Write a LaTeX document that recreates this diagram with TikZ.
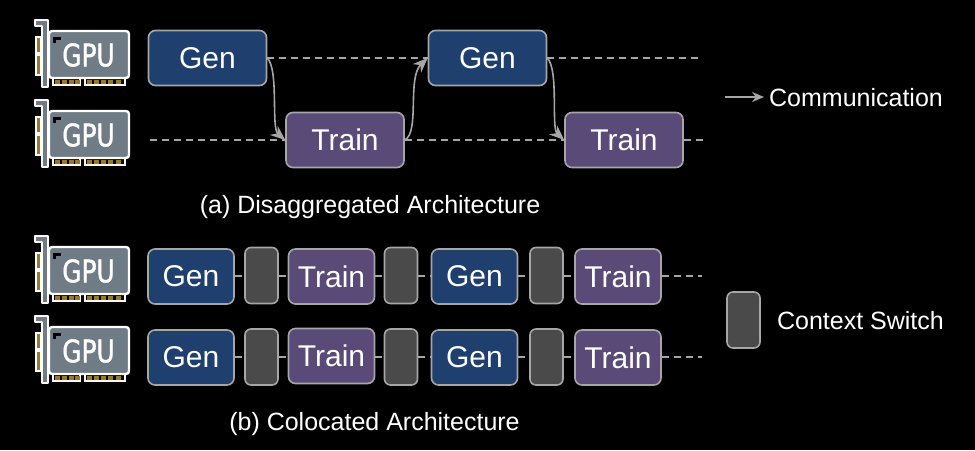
\documentclass[tikz,border=0pt]{standalone}
\usepackage{fontspec}
\setmainfont{Liberation Sans}
\newfontfamily\gpufont[FakeBold=1.6]{DejaVu Sans}
\usetikzlibrary{arrows.meta}
\definecolor{genfill}{HTML}{1F3F6E}
\definecolor{trainfill}{HTML}{5A4A78}
\definecolor{ctxfill}{HTML}{4A4A4A}
\definecolor{edgegray}{HTML}{A6A6A6}
\definecolor{cardgray}{HTML}{6F7B85}
\definecolor{goldpin}{HTML}{9A7A20}
\tikzset{
  box/.style={draw=edgegray,line width=1.6pt,rounded corners=7pt,inner sep=0pt,text=white,
    font=\fontsize{30}{34}\selectfont},
  genbox/.style={box,fill=genfill},
  trainbox/.style={box,fill=trainfill},
  ctxbox/.style={draw=edgegray,line width=1.6pt,rounded corners=6pt,inner sep=0pt,fill=ctxfill,
    minimum width=33pt,minimum height=56pt},
  big/.style={minimum width=118pt,minimum height=55pt},
  small/.style={minimum width=86pt,minimum height=55pt},
  dashline/.style={draw=edgegray,line width=1.5pt,dash pattern=on 7pt off 5pt},
  curved/.style={draw=edgegray,line width=1.6pt,-{Stealth[length=15pt,width=12pt]}},
  caption/.style={text=white,inner sep=0pt,font=\fontsize{25}{30}\selectfont},
  gpuicon/.pic={
    % bracket
    \draw[white,line width=2.2pt,fill=cardgray,line join=round]
      (35,20) -- (48,20) -- (48,87) -- (42,87) -- (42,26) -- (35,26) -- cycle;
    % side pins
    \draw[white,line width=1.6pt,fill=goldpin] (36,37) rectangle (41,53);
    \draw[white,line width=1.6pt,fill=goldpin] (36,55) rectangle (41,75);
    % bottom pins
    \draw[white,line width=1.6pt] (53,78) -- (53,85) -- (80,85) -- (80,78);
    \draw[white,line width=1.6pt] (85,78) -- (85,85) -- (125,85) -- (125,78);
    \foreach \a in {55,62,69,75,87,94,101,108,116}
      \fill[goldpin] (\a,80) rectangle +(5,3.5);
    % card
    \draw[white,line width=2.4pt,fill=cardgray,rounded corners=3pt] (49,31) rectangle (129,78);
    \fill[black] (53,37) rectangle (61,39.5);
    \fill[black] (53,37) rectangle (55.5,43);
    \node[text=white,inner sep=0pt,xscale=.8,transform shape,
      font=\gpufont\fontsize{31}{32}\selectfont] (-t) at (88.5,55) {GPU};
  }
}
\begin{document}
\begin{tikzpicture}[x=1pt,y=-1pt]
\useasboundingbox (0,0) rectangle (975,450);
\fill[black] (0,0) rectangle (975,450);

\pic (g1) at (0,0) {gpuicon};
\pic (g2) at (0,80) {gpuicon};
\pic (g3) at (0,216) {gpuicon};
\pic (g4) at (0,296) {gpuicon};

% (a)
\coordinate (s2) at (150,140);
\coordinate (e1) at (702,58);
\coordinate (e2) at (705,140);
\node[genbox,big] (a1) at (207.5,58) {Gen};
\node[trainbox,big] (a2) at (345,140) {Train};
\node[genbox,big] (a3) at (487.5,58) {Gen};
\node[trainbox,big] (a4) at (624,140) {Train};
\draw[dashline] (a1.east) -- (a3.west);
\draw[dashline] (a3.east) -- (e1);
\draw[dashline] (s2) -- (a2.west);
\draw[dashline] (a2.east) -- (a4.west);
\draw[dashline] (a4.east) -- (e2);
\draw[curved] (a1.east) .. controls (279,70) and (271,128) .. (a2.west);
\draw[curved] (a2.east) .. controls (420,132) and (407,78) .. (a3.west);
\draw[curved] (a3.east) .. controls (559,70) and (551,128) .. (a4.west);

\node[caption] (capa) at (370,207) {(a) Disaggregated Architecture};

% (b) row 1
\coordinate (e3) at (702,276);
\node[genbox,small] (b1) at (191,276.5) {Gen};
\node[ctxbox] (b2) at (261.5,275.5) {};
\node[trainbox,small] (b3) at (331.5,276.5) {Train};
\node[ctxbox] (b4) at (401,275.5) {};
\node[genbox,small] (b5) at (474.5,276.5) {Gen};
\node[ctxbox] (b6) at (546.5,275.5) {};
\node[trainbox,small] (b7) at (618,276.5) {Train};
\foreach \p/\q in {b1/b2,b2/b3,b3/b4,b4/b5,b5/b6,b6/b7}
  \draw[dashline] (\p.east |- e3) -- (\q.west |- e3);
\draw[dashline] (b7.east |- e3) -- (e3);

% (b) row 2
\coordinate (e4) at (702,357);
\node[genbox,small] (c1) at (191,357.5) {Gen};
\node[ctxbox] (c2) at (261.5,357) {};
\node[trainbox,small] (c3) at (331.5,356) {Train};
\node[ctxbox] (c4) at (401,357) {};
\node[genbox,small] (c5) at (474.5,357.5) {Gen};
\node[ctxbox] (c6) at (546.5,357) {};
\node[trainbox,small] (c7) at (618,357.5) {Train};
\foreach \p/\q in {c1/c2,c2/c3,c3/c4,c4/c5,c5/c6,c6/c7}
  \draw[dashline] (\p.east |- e4) -- (\q.west |- e4);
\draw[dashline] (c7.east |- e4) -- (e4);

\node[caption] (capb) at (374.5,424.5) {(b) Colocated Architecture};

% legend
\coordinate (la) at (725,97);
\coordinate (lb) at (764,97);
\draw[draw=edgegray,line width=1.5pt,-{Stealth[length=12pt,width=10pt]}] (la) -- (lb);
\node[caption] (lc) at (856,98) {Communication};
\node[ctxbox] (ld) at (743.5,320) {};
\node[caption] (le) at (860.5,321) {Context Switch};
\end{tikzpicture}
\end{document}
